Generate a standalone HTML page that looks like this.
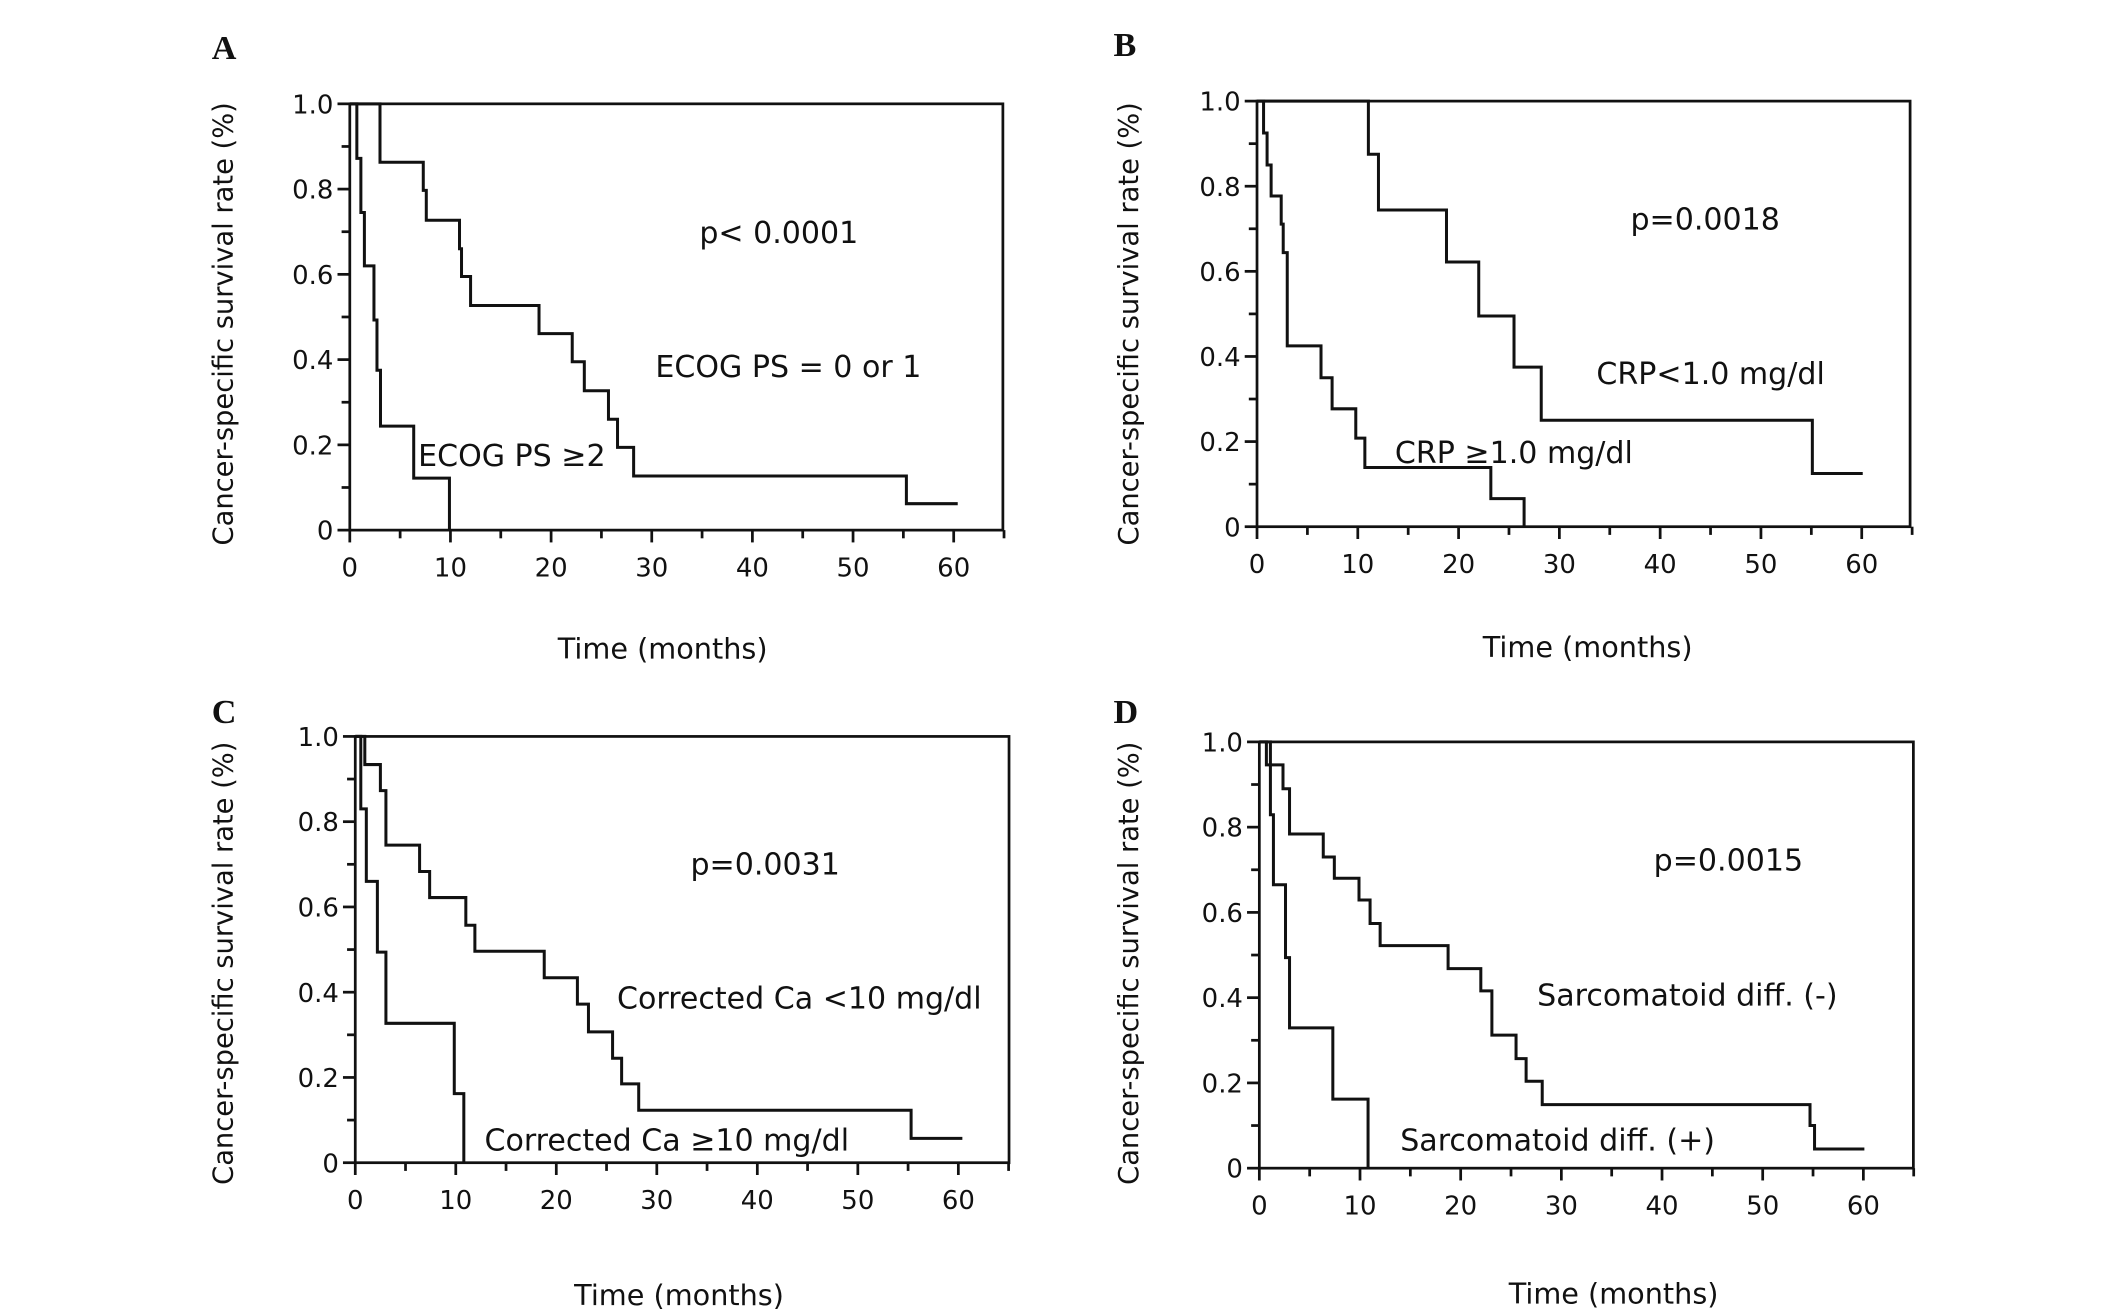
<!DOCTYPE html>
<html><head><meta charset="utf-8"><style>
html,body{margin:0;padding:0;background:#fff;}
svg{display:block;}
text{font-family:"DejaVu Sans","Liberation Sans",sans-serif;fill:#111;}
</style></head><body>
<svg id="fig" width="2126" height="1313" viewBox="0 0 1556 961" xmlns="http://www.w3.org/2000/svg"></svg>
<script>
// Panel A
const aHighTimes = [3.0, 7.3, 7.6, 10.9, 11.1, 12.0, 18.8, 22.1, 23.3, 25.7, 26.6, 28.2, 55.3, 60.4];
const aHighSurv  = [0.863, 0.797, 0.727, 0.66, 0.595, 0.527, 0.461, 0.395, 0.327, 0.26, 0.194, 0.127, 0.062, 0.062];
const aLowTimes  = [0.7, 1.1, 1.45, 2.4, 2.7, 3.05, 6.35, 9.9];
const aLowSurv   = [0.872, 0.745, 0.62, 0.493, 0.375, 0.244, 0.122, 0];
// Panel B
const bHighTimes = [11.05, 12.05, 18.8, 22.0, 25.5, 28.2, 55.1, 60.1];
const bHighSurv  = [0.875, 0.744, 0.622, 0.495, 0.375, 0.25, 0.125, 0.125];
const bLowTimes  = [0.65, 1.0, 1.4, 2.4, 2.6, 3.0, 6.35, 7.45, 9.8, 10.7, 23.2, 26.5];
const bLowSurv   = [0.925, 0.85, 0.777, 0.711, 0.644, 0.425, 0.35, 0.277, 0.208, 0.139, 0.066, 0];
// Panel C
const cHighTimes = [0.95, 2.5, 3.05, 6.4, 7.4, 11.0, 11.9, 18.8, 22.1, 23.2, 25.6, 26.5, 28.2, 55.3, 60.4];
const cHighSurv  = [0.934, 0.873, 0.745, 0.683, 0.622, 0.557, 0.496, 0.434, 0.372, 0.307, 0.245, 0.185, 0.123, 0.057, 0.057];
const cLowTimes  = [0.55, 1.1, 2.2, 3.05, 9.85, 10.8];
const cLowSurv   = [0.83, 0.66, 0.494, 0.327, 0.162, 0];
// Panel D
const dHighTimes = [0.7, 2.35, 3.0, 6.35, 7.45, 9.9, 11.0, 12.0, 18.75, 22.0, 23.1, 25.5, 26.5, 28.1, 54.7, 55.15, 60.1];
const dHighSurv  = [0.946, 0.89, 0.784, 0.73, 0.68, 0.629, 0.574, 0.522, 0.468, 0.416, 0.312, 0.257, 0.204, 0.149, 0.10, 0.045, 0.045];
const dLowTimes  = [1.1, 1.4, 2.6, 3.0, 7.3, 10.8];
const dLowSurv   = [0.829, 0.665, 0.494, 0.329, 0.162, 0];

const xTickLabels = ["0","10","20","30","40","50","60"];
const xTickValues = [0,10,20,30,40,50,60];
const yTickLabels = ["0","0.2","0.4","0.6","0.8","1.0"];
const yTickValues = [0,0.2,0.4,0.6,0.8,1.0];

const NS="http://www.w3.org/2000/svg";
const svg=document.getElementById('fig');
function mk(tag,attrs,parent){const e=document.createElementNS(NS,tag);for(const k in attrs)e.setAttribute(k,attrs[k]);(parent||svg).appendChild(e);return e;}

function panel(p){
  const g=mk('g',{});
  
  
  const x=v=>p.left+(v/60)*(p.x60-p.left);
  const y=v=>p.y0-v*(p.y0-p.top);
  const L=mk('text',{x:p.lx,y:p.ly,style:'font-family:"Liberation Serif",serif;font-weight:bold;font-size:25px;'},g);
  L.textContent=p.id;
  
  
  const box=mk('rect',{x:p.left,y:p.top,width:p.right-p.left,height:p.y0-p.top,fill:'none',stroke:'#111','stroke-width':2},g);
  
  
  for(let i=0;i<=10;i++){
    const v=i/10, yy=y(v);
    const t=mk('line',{x1:p.left-(i%2===0?9:6),x2:p.left,y1:yy,y2:yy,stroke:'#111','stroke-width':2},g);
    
    
  }
  yTickValues.forEach((v,i)=>{
    const t=mk('text',{x:p.left-12,y:y(v)+7,'font-size':19,'text-anchor':'end'},g);
    t.textContent=yTickLabels[i];
    
    
  });
  for(let m=0;m<=65;m+=5){
    const t=mk('line',{x1:x(m),x2:x(m),y1:p.y0,y2:p.y0+(m%10===0?9:6),stroke:'#111','stroke-width':2},g);
    
    
  }
  xTickValues.forEach((v,i)=>{
    const t=mk('text',{x:x(v),y:p.y0+34,'font-size':19,'text-anchor':'middle'},g);
    t.textContent=xTickLabels[i];
    
    
  });
  const xt=mk('text',{x:p.xtx,y:p.xty,'font-size':21,'text-anchor':'middle'},g);
  xt.textContent='Time (months)';
  
  
  const yt=mk('text',{x:0,y:0,'font-size':20,'text-anchor':'middle',transform:`translate(${p.ytx},${p.yty}) rotate(-90)`},g);
  yt.textContent='Cancer-specific survival rate (%)';
  
  
  [[p.hT,p.hS,'curve-favorable'],[p.lT,p.lS,'curve-unfavorable']].forEach(([T,S,nm])=>{
    let d=`M${x(0)},${y(1)}`, prev=1;
    T.forEach((t,i)=>{d+=` L${x(t)},${y(prev)} L${x(t)},${y(S[i])}`;prev=S[i];});
    const path=mk('path',{d:d,fill:'none',stroke:'#111','stroke-width':2.2},g);
    
    
  });
  p.notes.forEach(n=>{
    const t=mk('text',{x:n[1],y:n[2],'font-size':22,'text-anchor':n[3]||'middle'},g);
    t.textContent=n[0];
    
    
  });
}

panel({id:'A',left:256,right:734,top:76,y0:388,x60:698,lx:155,ly:43,xtx:485,xty:482,ytx:170,yty:237,
  hT:aHighTimes,hS:aHighSurv,lT:aLowTimes,lS:aLowSurv,
  notes:[['p< 0.0001',570,178,'middle','p-value'],['ECOG PS = 0 or 1',577,276,'middle','label-favorable'],['ECOG PS \u22652',306,341,'start','label-unfavorable']]});
panel({id:'B',left:920,right:1398,top:74,y0:385.5,x60:1362.6,lx:815,ly:41,xtx:1162,xty:481,ytx:833,yty:237,
  hT:bHighTimes,hS:bHighSurv,lT:bLowTimes,lS:bLowSurv,
  notes:[['p=0.0018',1248,168,'middle','p-value'],['CRP<1.0 mg/dl',1252,281,'middle','label-favorable'],['CRP \u22651.0 mg/dl',1108,339,'middle','label-unfavorable']]});
panel({id:'C',left:260,right:738.5,top:539,y0:851,x60:701.4,lx:155,ly:529,xtx:497,xty:955,ytx:170,yty:705,
  hT:cHighTimes,hS:cHighSurv,lT:cLowTimes,lS:cLowSurv,
  notes:[['p=0.0031',560,640,'middle','p-value'],['Corrected Ca <10 mg/dl',585,738,'middle','label-favorable'],['Corrected Ca \u226510 mg/dl',488,842,'middle','label-unfavorable']]});
panel({id:'D',left:921.7,right:1400.4,top:543,y0:855,x60:1363.8,lx:815,ly:529,xtx:1181,xty:954,ytx:833,yty:705,
  hT:dHighTimes,hS:dHighSurv,lT:dLowTimes,lS:dLowSurv,
  notes:[['p=0.0015',1265,637,'middle','p-value'],['Sarcomatoid diff. (-)',1235,736,'middle','label-favorable'],['Sarcomatoid diff. (+)',1140,842,'middle','label-unfavorable']]});
</script>
</body></html>
